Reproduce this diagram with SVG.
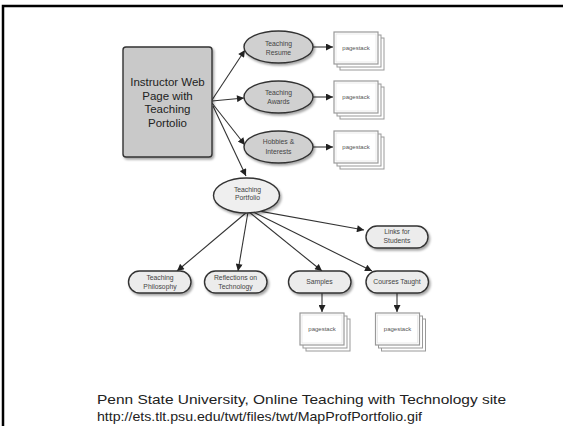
<svg xmlns="http://www.w3.org/2000/svg" width="563" height="426" viewBox="0 0 563 426">
<defs>
<filter id="sh" x="-20%" y="-20%" width="150%" height="160%">
<feDropShadow dx="1.5" dy="2" stdDeviation="1.2" flood-color="#000" flood-opacity="0.35"/>
</filter>
<marker id="ah" viewBox="0 0 10 10" refX="10" refY="5" markerWidth="8" markerHeight="7" markerUnits="userSpaceOnUse" orient="auto">
<path d="M0,0 L10,5 L0,10 z" fill="#222"/>
</marker>
<g id="stack">
<rect x="6" y="6" width="44" height="32" fill="#fff" stroke="#999" stroke-width="1"/>
<rect x="3" y="3" width="44" height="32" fill="#fff" stroke="#999" stroke-width="1"/>
<rect x="0" y="0" width="44" height="32" fill="#fff" stroke="#999" stroke-width="1.2"/>
<rect x="2" y="2" width="40" height="28" fill="none" stroke="#ddd" stroke-width="0.6"/>
<text x="22" y="18" class="ps">pagestack</text>
</g>
</defs>
<style>
text{font-family:"Liberation Sans",Arial,sans-serif;text-anchor:middle;fill:#444}
.ps{font-size:6px;fill:#555}
.lbl{font-size:6.8px}
.main{font-size:11.5px;fill:#222}
.foot{font-size:13px;fill:#222;text-anchor:start}
.node{stroke:#333;stroke-width:1.4}
.conn line{stroke:#333;stroke-width:1.1;marker-end:url(#ah)}
</style>
<rect x="0" y="0" width="563" height="426" fill="#fff"/>
<path d="M3,426 V6 H563" fill="none" stroke="#000" stroke-width="2.5"/>

<g id="connectors" class="conn">
<line x1="212" y1="100" x2="245" y2="50"/>
<line x1="212" y1="101" x2="244" y2="98"/>
<line x1="212" y1="103" x2="245" y2="145"/>
<line x1="213" y1="106" x2="246" y2="176"/>
<line x1="313" y1="47" x2="333" y2="47"/>
<line x1="313" y1="97" x2="333" y2="97"/>
<line x1="313" y1="147" x2="333" y2="147"/>
<line x1="247" y1="212" x2="177" y2="271"/>
<line x1="248" y1="212" x2="238" y2="271"/>
<line x1="249" y1="212" x2="322" y2="271"/>
<line x1="251" y1="211" x2="372" y2="271"/>
<line x1="253" y1="210" x2="364" y2="230"/>
<line x1="322" y1="293" x2="322" y2="312"/>
<line x1="397" y1="293" x2="397" y2="312"/>
</g>

<g id="instructor">
<rect class="node" x="123" y="47" width="89" height="110" rx="3" fill="#c9c9c9" filter="url(#sh)"/>
<text class="main" x="167.5" y="86">Instructor Web</text>
<text class="main" x="167.5" y="99.5">Page with</text>
<text class="main" x="167.5" y="113">Teaching</text>
<text class="main" x="167.5" y="126.5">Portolio</text>
</g>

<g id="resume">
<ellipse class="node" cx="278.5" cy="47" rx="34.5" ry="16" fill="#d0d0d0" filter="url(#sh)"/>
<text class="lbl" x="278.5" y="45.5">Teaching</text>
<text class="lbl" x="278.5" y="55">Resume</text>
</g>
<g id="awards">
<ellipse class="node" cx="278.5" cy="97" rx="34.5" ry="16" fill="#d0d0d0" filter="url(#sh)"/>
<text class="lbl" x="278.5" y="95">Teaching</text>
<text class="lbl" x="278.5" y="104">Awards</text>
</g>
<g id="hobbies">
<ellipse class="node" cx="278.5" cy="147" rx="34.5" ry="16" fill="#d0d0d0" filter="url(#sh)"/>
<text class="lbl" x="278.5" y="144">Hobbies &amp;</text>
<text class="lbl" x="278.5" y="154">Interests</text>
</g>

<g id="stack1"><use href="#stack" x="334" y="32"/></g>
<g id="stack2"><use href="#stack" x="334" y="81"/></g>
<g id="stack3"><use href="#stack" x="334" y="131"/></g>

<g id="portfolio">
<ellipse class="node" cx="246.5" cy="195.5" rx="33" ry="17.5" fill="#efefef" filter="url(#sh)"/>
<text class="lbl" x="247.5" y="191.5">Teaching</text>
<text class="lbl" x="247.5" y="200">Portfolio</text>
</g>

<g id="links">
<rect class="node" x="366" y="226" width="62" height="22" rx="11" fill="#ececec" filter="url(#sh)"/>
<text class="lbl" x="397" y="234">Links for</text>
<text class="lbl" x="397" y="242.5">Students</text>
</g>
<g id="philosophy">
<rect class="node" x="128.5" y="271" width="62.5" height="22" rx="11" fill="#ececec" filter="url(#sh)"/>
<text class="lbl" x="160" y="280">Teaching</text>
<text class="lbl" x="160" y="288.5">Philosophy</text>
</g>
<g id="reflections">
<rect class="node" x="204.5" y="271" width="62.5" height="22" rx="11" fill="#ececec" filter="url(#sh)"/>
<text class="lbl" x="235.5" y="280">Reflections on</text>
<text class="lbl" x="235.5" y="288.5">Technology</text>
</g>
<g id="samples">
<rect class="node" x="288.5" y="271" width="62.5" height="22" rx="11" fill="#ececec" filter="url(#sh)"/>
<text class="lbl" x="319.5" y="284">Samples</text>
</g>
<g id="courses">
<rect class="node" x="366" y="271" width="62.5" height="22" rx="11" fill="#ececec" filter="url(#sh)"/>
<text class="lbl" x="397" y="284">Courses Taught</text>
</g>

<g id="stack4"><use href="#stack" x="300" y="313"/></g>
<g id="stack5"><use href="#stack" x="375.5" y="313"/></g>

<text class="foot" x="97" y="404" textLength="409" lengthAdjust="spacingAndGlyphs">Penn State University, Online Teaching with Technology site</text>
<text class="foot" x="97" y="420.5" textLength="325" lengthAdjust="spacingAndGlyphs">http://ets.tlt.psu.edu/twt/files/twt/MapProfPortfolio.gif</text>
</svg>
